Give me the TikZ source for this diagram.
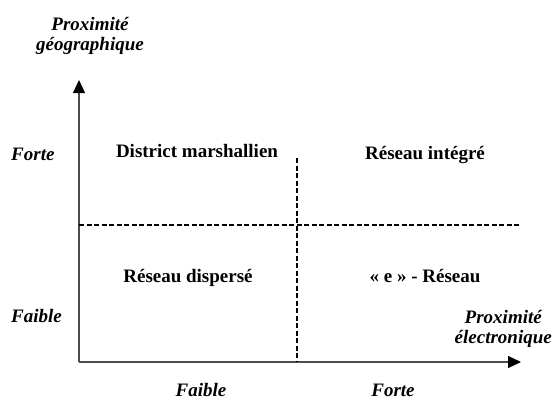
\documentclass[tikz,border=0pt]{standalone}
\usepackage{fontspec}
\setmainfont{Liberation Serif}
\usetikzlibrary{arrows.meta, positioning}

\begin{document}
\begin{tikzpicture}[
      x=1pt, y=-1pt,
      axis/.style={-{Triangle[length=13pt, width=12pt, color=black]}, line width=1.2pt, black!70},
      split/.style={dash pattern=on 5pt off 2.5pt, line width=1.6pt},
      axislabel/.style={font=\fontsize{19}{20}\selectfont\bfseries\itshape, align=center, inner sep=0pt},
      level/.style={font=\fontsize{19}{20}\selectfont\bfseries\itshape, inner sep=0pt},
      quadrant/.style={font=\fontsize{19}{20}\selectfont\bfseries, inner sep=0pt}
    ]
    \useasboundingbox (0,0) rectangle (556,399);

    % axes
    \coordinate (origin) at (79,362);
    \coordinate (ytip) at (79,80);
    \coordinate (xtip) at (521,362);
    \draw[axis] (origin) -- (ytip);
    \draw[axis] (origin) -- (xtip);

    % quadrant borders
    \coordinate (hleft) at (79,225);
    \coordinate (hright) at (520,225);
    \coordinate (vtop) at (297,158);
    \coordinate (vbottom) at (297,362);
    \draw[split] (hleft) -- (hright);
    \draw[split] (vtop) -- (vbottom);

    % axis titles
    \node[axislabel] (ytitle) at (90,36) {Proximité\\géographique};
    \node[axislabel, anchor=east] (xtitle) at (552,329) {Proximité\\électronique};

    % levels
    \node[level, anchor=base west] (yhigh) at (11,160) {Forte};
    \node[level, anchor=base west] (ylow) at (11,322) {Faible};
    \node[level, anchor=base] (xlow) at (201,396) {Faible};
    \node[level, anchor=base] (xhigh) at (393,396) {Forte};

    % quadrants
    \node[quadrant, anchor=base] (district) at (197,157) {District marshallien};
    \node[quadrant, anchor=base] (integre) at (425,159) {Réseau intégré};
    \node[quadrant, anchor=base] (disperse) at (188,282) {Réseau dispersé};
    \node[quadrant, anchor=base] (ereseau) at (425,282) {« e » - Réseau};
  \end{tikzpicture}
\end{document}
